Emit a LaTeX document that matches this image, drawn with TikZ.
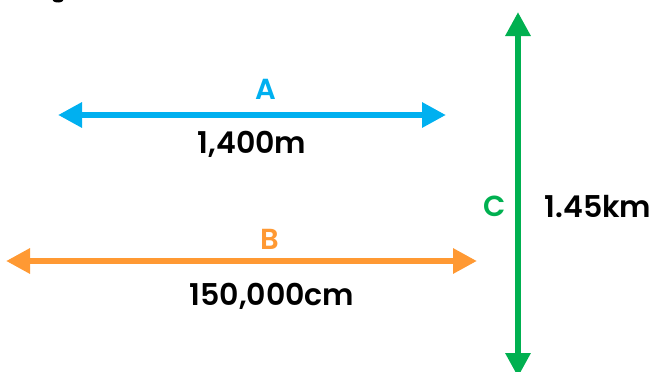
\documentclass[tikz,border=0pt]{standalone}
\usepackage{fontspec}
\setmainfont{Poppins}[BoldFont={Poppins SemiBold}]
\usetikzlibrary{arrows.meta}
\definecolor{cA}{HTML}{00B0F0}
\definecolor{cB}{HTML}{FF9933}
\definecolor{cC}{HTML}{00B050}
\tikzset{
  dimarrow/.style={line width=6.5pt, {Triangle[length=24pt,width=24pt]}-{Triangle[length=24pt,width=24pt]}},
  letter/.style={font=\fontsize{29}{29}\selectfont\bfseries, inner sep=0pt},
  measure/.style={font=\fontsize{30}{30}\selectfont\bfseries, inner sep=0pt, text=black}
}
\begin{document}
\begin{tikzpicture}[x=1pt,y=-1pt]
\useasboundingbox (0,0) rectangle (657,372);
\begin{scope}
\clip (0,0) rectangle (657,372);
\fill[black] (58,-1) ellipse (6 and 3.5);
\coordinate (a1) at (58,115);
\coordinate (a2) at (446,115);
\coordinate (b1) at (6,261);
\coordinate (b2) at (477,261);
\coordinate (c1) at (518,12);
\coordinate (c2) at (518,377);
\draw[dimarrow, cA] (a1) -- (a2);
\draw[dimarrow, cB] (b1) -- (b2);
\draw[dimarrow, cC] (c1) -- (c2);
\end{scope}
\node[letter, text=cA] (la) at (266,89) {A};
\node[measure] (ma) at (252,144) {1,400m};
\node[letter, text=cB] (lb) at (270,239) {B};
\node[measure] (mb) at (272,296) {150,000cm};
\node[letter, text=cC] (lc) at (495,206) {C};
\node[measure] (mc) at (598,207) {1.45km};
\end{tikzpicture}
\end{document}
